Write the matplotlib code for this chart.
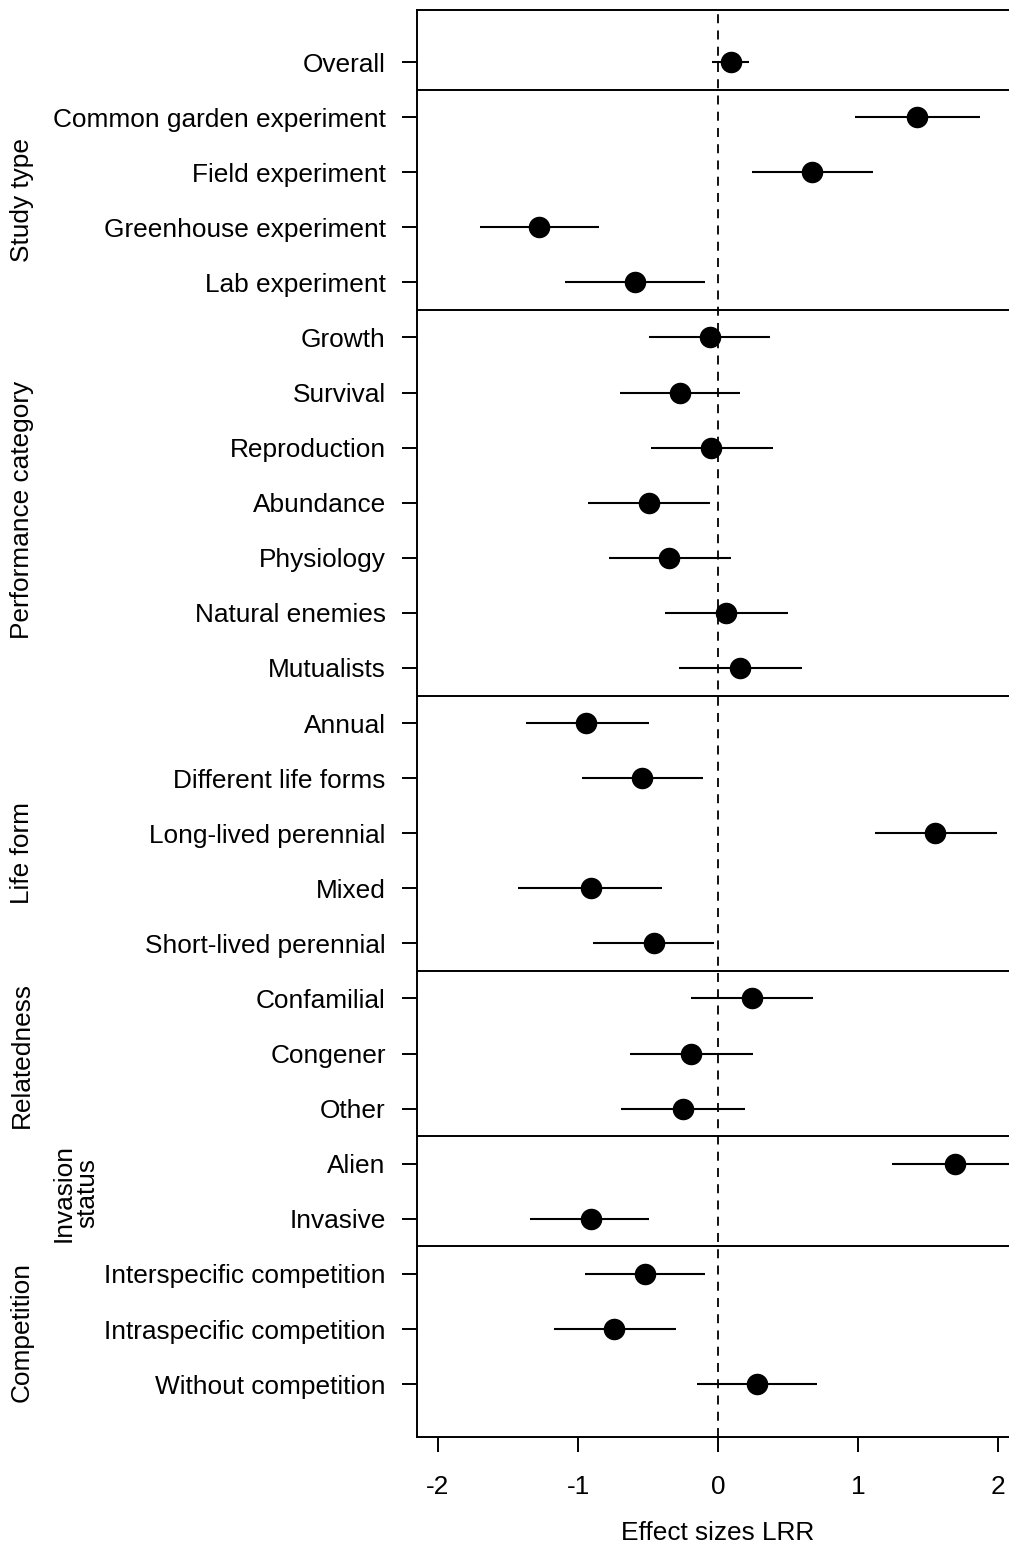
import matplotlib
matplotlib.use("Agg")
import matplotlib.pyplot as plt

plt.rcParams['font.family'] = ['Liberation Sans', 'DejaVu Sans']

labels = ["Overall",
          "Common garden experiment", "Field experiment", "Greenhouse experiment", "Lab experiment",
          "Growth", "Survival", "Reproduction", "Abundance", "Physiology", "Natural enemies", "Mutualists",
          "Annual", "Different life forms", "Long-lived perennial", "Mixed", "Short-lived perennial",
          "Confamilial", "Congener", "Other",
          "Alien", "Invasive",
          "Interspecific competition", "Intraspecific competition", "Without competition"]
estimate = [0.09,
            1.42, 0.67, -1.28, -0.59,
            -0.06, -0.27, -0.05, -0.49, -0.35, 0.06, 0.16,
            -0.94, -0.54, 1.55, -0.91, -0.46,
            0.24, -0.19, -0.25,
            1.69, -0.91,
            -0.52, -0.74, 0.28]
ci_low = [-0.04,
          0.98, 0.24, -1.70, -1.09,
          -0.49, -0.70, -0.48, -0.93, -0.78, -0.38, -0.28,
          -1.37, -0.97, 1.12, -1.43, -0.89,
          -0.19, -0.63, -0.69,
          1.24, -1.34,
          -0.95, -1.17, -0.15]
ci_high = [0.22,
           1.87, 1.11, -0.85, -0.09,
           0.37, 0.16, 0.39, -0.06, 0.09, 0.50, 0.60,
           -0.49, -0.11, 1.99, -0.40, -0.03,
           0.68, 0.25, 0.19,
           2.14, -0.49,
           -0.09, -0.30, 0.71]
groups = ["Study type", "Performance category", "Life form", "Relatedness", "Invasion\nstatus", "Competition"]
group_sizes = [4, 7, 5, 3, 2, 3]

W, H = 1009, 1547
fig = plt.figure(figsize=(W / 100, H / 100), dpi=100)
# axes extends slightly past the right figure edge (clipped, as in the reference)
ax = fig.add_axes([417 / W, (H - 1437) / H, (1019 - 417) / W, (1437 - 10) / H])

fs = 18.9
n = len(labels)
ypos = list(range(n))
for i in ypos:
    ax.plot([ci_low[i], ci_high[i]], [i, i], color='black', lw=1.5, solid_capstyle='butt', zorder=3)
ax.plot(estimate, ypos, 'o', color='black', ms=14.5, zorder=4)

ax.axvline(0, color='black', lw=1.3, ls=(0, (5, 4)), zorder=2)

# group separators
start = 1
bounds = []
for g, s in zip(groups, group_sizes):
    ax.axhline(start - 0.5, color='black', lw=1.4, zorder=2)
    bounds.append((start, start + s - 1))
    start += s

ax.set_xlim(-2.15, 2.15)
ax.set_ylim(24.96, -0.944)
ax.set_yticks(ypos)
ax.set_yticklabels(labels, fontsize=fs)
ax.set_xticks([-2, -1, 0, 1, 2])
ax.set_xticklabels(["-2", "-1", "0", "1", "2"], fontsize=fs)
ax.tick_params(axis='y', length=11, width=1.4, pad=11.5)
ax.tick_params(axis='x', length=11, width=1.4, pad=16)
ax.set_xlabel("Effect sizes LRR", fontsize=fs, labelpad=16)
for sp in ['left', 'top', 'bottom']:
    ax.spines[sp].set_linewidth(1.4)
ax.spines['right'].set_visible(False)

# group labels (small vertical offsets, in rows, as placed in the reference)
label_shift = [0.0, 0.13, 0.36, 0.03, 0.03, 0.05]
for g, (a, b), sh in zip(groups, bounds, label_shift):
    yc = (a + b) / 2 + sh
    ydisp = ax.transData.transform((0, yc))[1]
    yfig = ydisp / H
    if "\n" in g:
        fig.text(75.5 / W, yfig, g, rotation=90, ha='center', va='center', fontsize=fs,
                 linespacing=1.02, multialignment='center')
    else:
        fig.text(22 / W, yfig, g, rotation=90, ha='center', va='center', fontsize=fs)

fig.savefig("out.png", dpi=100)
